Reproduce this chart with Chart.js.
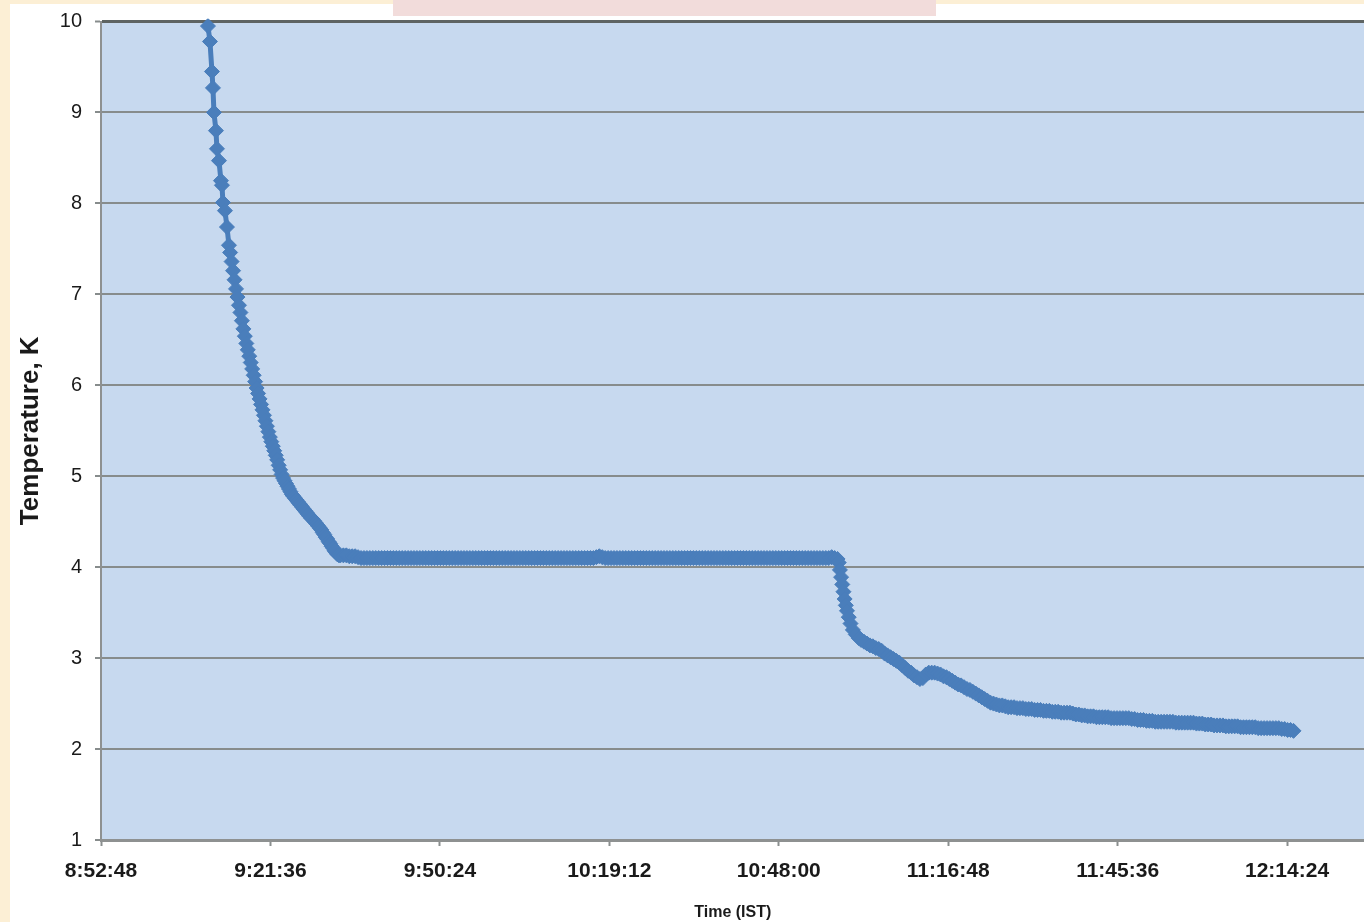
<!DOCTYPE html>
<html>
<head>
<meta charset="utf-8">
<title>Cool-down: Temperature vs Time</title>
<script src="https://cdn.jsdelivr.net/npm/chart.js@4.4.1/dist/chart.umd.min.js"></script>
<style>
  html, body { margin: 0; padding: 0; width: 1364px; height: 922px; overflow: hidden; background: #fcefd5; }
  #panel { position: absolute; left: 10px; top: 4px; width: 1363px; height: 918px; background: #ffffff; }
  #tab { position: absolute; left: 393px; top: 0; width: 543px; height: 16px; background: #f2dcdb; }
  canvas { display: block; }
</style>
</head>
<body>
<div id="panel"><canvas id="chart" width="1363" height="918"></canvas></div>
<div id="tab"></div>
<script>
// ---- Axis ticks ----
const xTickLabels = ['8:52:48', '9:21:36', '9:50:24', '10:19:12', '10:48:00', '11:16:48', '11:45:36', '12:14:24'];
const xAxisEnd = '12:27:34';
const yTickValues = [1, 2, 3, 4, 5, 6, 7, 8, 9, 10];

// ---- Logged temperatures (K); times are minutes after 9:00:00 IST ----
// First fast drop below 10 K
const fastDropMin = [10.98, 11.32, 11.66, 11.83, 12.00, 12.34, 12.51, 12.85, 13.19, 13.36, 13.53, 13.87, 14.21, 14.55];
const fastDropK   = [9.95, 9.78, 9.45, 9.27, 9.00, 8.80, 8.60, 8.47, 8.25, 8.20, 8.01, 7.92, 7.74, 7.54];

// Slower approach to the 4.1 K plateau, logged every 15 s from 14.75 min
const slowDropStart = 14.75, slowDropStep = 0.25;
const slowDropK = [
  7.46, 7.36, 7.26, 7.16,
  7.06, 6.97, 6.88, 6.80,
  6.71, 6.62, 6.54, 6.46,
  6.39, 6.32, 6.25, 6.18,
  6.11, 6.04, 5.97, 5.91,
  5.85, 5.79, 5.73, 5.67,
  5.61, 5.55, 5.49, 5.43,
  5.38, 5.33, 5.28, 5.23,
  5.18, 5.12, 5.07, 5.02,
  4.98, 4.95, 4.92, 4.89,
  4.86, 4.83, 4.80, 4.78,
  4.76, 4.74, 4.72, 4.70,
  4.68, 4.66, 4.64, 4.62,
  4.60, 4.58, 4.56, 4.54,
  4.53, 4.51, 4.49, 4.47,
  4.45, 4.43, 4.41, 4.38,
  4.36, 4.33, 4.31, 4.28,
  4.26, 4.23, 4.21, 4.18,
  4.16, 4.14, 4.13, 4.13
];

// Plateau near 4.1 K, logged every 30 s from 34 min
const plateauStart = 34, plateauStep = 0.5;
const plateauK = [
  4.13, 4.13, 4.12, 4.12, 4.12, 4.11, 4.10, 4.10, 4.10, 4.10,
  4.10, 4.10, 4.10, 4.10, 4.10, 4.10, 4.10, 4.10, 4.10, 4.10,
  4.10, 4.10, 4.10, 4.10, 4.10, 4.10, 4.10, 4.10, 4.10, 4.10,
  4.10, 4.10, 4.10, 4.10, 4.10, 4.10, 4.10, 4.10, 4.10, 4.10,
  4.10, 4.10, 4.10, 4.10, 4.10, 4.10, 4.10, 4.10, 4.10, 4.10,
  4.10, 4.10, 4.10, 4.10, 4.10, 4.10, 4.10, 4.10, 4.10, 4.10,
  4.10, 4.10, 4.10, 4.10, 4.10, 4.10, 4.10, 4.10, 4.10, 4.10,
  4.10, 4.10, 4.10, 4.10, 4.10, 4.10, 4.10, 4.10, 4.10, 4.10,
  4.10, 4.10, 4.10, 4.10, 4.10, 4.10, 4.11, 4.12, 4.11, 4.10,
  4.10, 4.10, 4.10, 4.10, 4.10, 4.10, 4.10, 4.10, 4.10, 4.10,
  4.10, 4.10, 4.10, 4.10, 4.10, 4.10, 4.10, 4.10, 4.10, 4.10,
  4.10, 4.10, 4.10, 4.10, 4.10, 4.10, 4.10, 4.10, 4.10, 4.10,
  4.10, 4.10, 4.10, 4.10, 4.10, 4.10, 4.10, 4.10, 4.10, 4.10,
  4.10, 4.10, 4.10, 4.10, 4.10, 4.10, 4.10, 4.10, 4.10, 4.10,
  4.10, 4.10, 4.10, 4.10, 4.10, 4.10, 4.10, 4.10, 4.10, 4.10,
  4.10, 4.10, 4.10, 4.10, 4.10, 4.10, 4.10, 4.10, 4.10, 4.10,
  4.10, 4.10, 4.10, 4.10, 4.10, 4.10, 4.11, 4.10
];

// Second drop after pumping starts
const secondDropMin = [118.0, 118.2, 118.4, 118.6, 118.8, 119.0, 119.2, 119.4, 119.6, 119.9, 120.2, 120.6, 121.1, 121.6];
const secondDropK   = [4.09, 4.05, 3.97, 3.89, 3.81, 3.73, 3.65, 3.58, 3.52, 3.45, 3.38, 3.31, 3.26, 3.22];

// Final slow cooling, logged every 30 s from 122 min
const tailStart = 122, tailStep = 0.5;
const tailK = [
  3.20, 3.18, 3.16, 3.14, 3.13, 3.11, 3.10, 3.08, 3.05, 3.03,
  3.01, 2.99, 2.97, 2.95, 2.92, 2.89, 2.86, 2.84, 2.81, 2.79,
  2.77, 2.78, 2.82, 2.84, 2.84, 2.84, 2.83, 2.82, 2.80, 2.79,
  2.77, 2.75, 2.73, 2.71, 2.70, 2.68, 2.66, 2.65, 2.63, 2.61,
  2.59, 2.57, 2.55, 2.53, 2.51, 2.50, 2.49, 2.48, 2.48, 2.47,
  2.46, 2.46, 2.46, 2.45, 2.45, 2.45, 2.44, 2.44, 2.44, 2.43,
  2.43, 2.43, 2.42, 2.42, 2.42, 2.41, 2.41, 2.41, 2.40, 2.40,
  2.40, 2.40, 2.39, 2.38, 2.38, 2.37, 2.37, 2.36, 2.36, 2.36,
  2.35, 2.35, 2.35, 2.35, 2.35, 2.34, 2.34, 2.34, 2.34, 2.34,
  2.34, 2.34, 2.33, 2.33, 2.32, 2.32, 2.32, 2.31, 2.31, 2.31,
  2.30, 2.30, 2.30, 2.30, 2.30, 2.30, 2.30, 2.29, 2.29, 2.29,
  2.29, 2.29, 2.29, 2.29, 2.28, 2.28, 2.28, 2.27, 2.27, 2.27,
  2.26, 2.26, 2.26, 2.26, 2.25, 2.25, 2.25, 2.25, 2.25, 2.24,
  2.24, 2.24, 2.24, 2.24, 2.24, 2.23, 2.23, 2.23, 2.23, 2.23,
  2.23, 2.23, 2.23, 2.22, 2.22, 2.21, 2.21, 2.20
];

// ---- Helpers ----
const toSec = s => { const [h, m, sec] = s.split(':').map(Number); return h * 3600 + m * 60 + sec; };
const fmtClock = v => {
  v = Math.round(v);
  const h = Math.floor(v / 3600), m = Math.floor((v % 3600) / 60), s = v % 60;
  return h + ':' + String(m).padStart(2, '0') + ':' + String(s).padStart(2, '0');
};
const baseSec = toSec('9:00:00');
const points = [];
const addTimed = (mins, temps) => mins.forEach((m, i) => points.push({ x: baseSec + m * 60, y: temps[i] }));
const addLogged = (start, step, temps) => temps.forEach((t, i) => points.push({ x: baseSec + (start + i * step) * 60, y: t }));

addTimed(fastDropMin, fastDropK);
addLogged(slowDropStart, slowDropStep, slowDropK);
addLogged(plateauStart, plateauStep, plateauK);
addTimed(secondDropMin, secondDropK);
addLogged(tailStart, tailStep, tailK);

const FONT = "'Liberation Sans', Arial, Helvetica, sans-serif";
const TEXT = '#1a1a1a';
const SERIES = '#4a7ebb';

// Light blue plot-area fill
const plotFill = {
  id: 'plotFill',
  beforeDraw(chart) {
    const { ctx, chartArea: a } = chart;
    ctx.save();
    ctx.fillStyle = '#c7d9ef';
    ctx.fillRect(a.left, a.top, a.right - a.left, a.bottom - a.top);
    ctx.restore();
  }
};

new Chart(document.getElementById('chart'), {
  type: 'line',
  data: {
    datasets: [{
      label: 'Temperature',
      data: points,
      borderColor: SERIES,
      backgroundColor: SERIES,
      borderWidth: 5,
      pointStyle: 'rectRot',
      pointRadius: 7.5,
      pointBorderWidth: 1,
      pointBorderColor: SERIES,
      pointBackgroundColor: SERIES,
      tension: 0,
      clip: { left: 0, top: 3, right: 0, bottom: 0 }
    }]
  },
  options: {
    responsive: false,
    animation: false,
    devicePixelRatio: 1,
    layout: { padding: { top: 17.5, left: 0, right: 0, bottom: 0 } },
    plugins: { legend: { display: false }, tooltip: { enabled: false } },
    scales: {
      x: {
        type: 'linear',
        min: toSec(xTickLabels[0]),
        max: toSec(xAxisEnd),
        afterBuildTicks: s => { s.ticks = xTickLabels.map(l => ({ value: toSec(l) })); },
        afterFit: s => { s.height = 82; s.paddingLeft = 0; s.paddingRight = 0; },
        grid: { drawOnChartArea: false, drawTicks: true, tickLength: 6, tickColor: '#8a8f8f', tickWidth: 2 },
        border: { display: true, color: '#8e9191', width: 3 },
        ticks: {
          callback: v => fmtClock(v),
          font: { family: FONT, size: 21, weight: 'bold' },
          color: TEXT, padding: 13, maxRotation: 0, autoSkip: false
        },
        title: {
          display: true, text: 'Time (IST)',
          font: { family: FONT, size: 16, weight: 'bold' },
          color: TEXT, padding: { top: 0, bottom: 0 }
        }
      },
      y: {
        min: 1,
        max: 10,
        afterBuildTicks: s => { s.ticks = yTickValues.map(v => ({ value: v })); },
        afterFit: s => { s.width = 91; s.paddingTop = 0; s.paddingBottom = 0; },
        grid: {
          color: c => (c.tick && c.tick.value === 10) ? '#5e6463' : '#878c8c',
          lineWidth: c => (c.tick && c.tick.value === 10) ? 3 : 2,
          tickLength: 6, tickColor: '#878c8c', tickWidth: 2
        },
        border: { display: true, color: '#8e9191', width: 2 },
        ticks: { font: { family: FONT, size: 20 }, color: TEXT, padding: 13 },
        title: {
          display: true, text: 'Temperature, K',
          font: { family: FONT, size: 26, weight: 'bold' },
          color: TEXT, padding: { top: 5, bottom: 0 }
        }
      }
    }
  },
  plugins: [plotFill]
});
</script>
</body>
</html>
